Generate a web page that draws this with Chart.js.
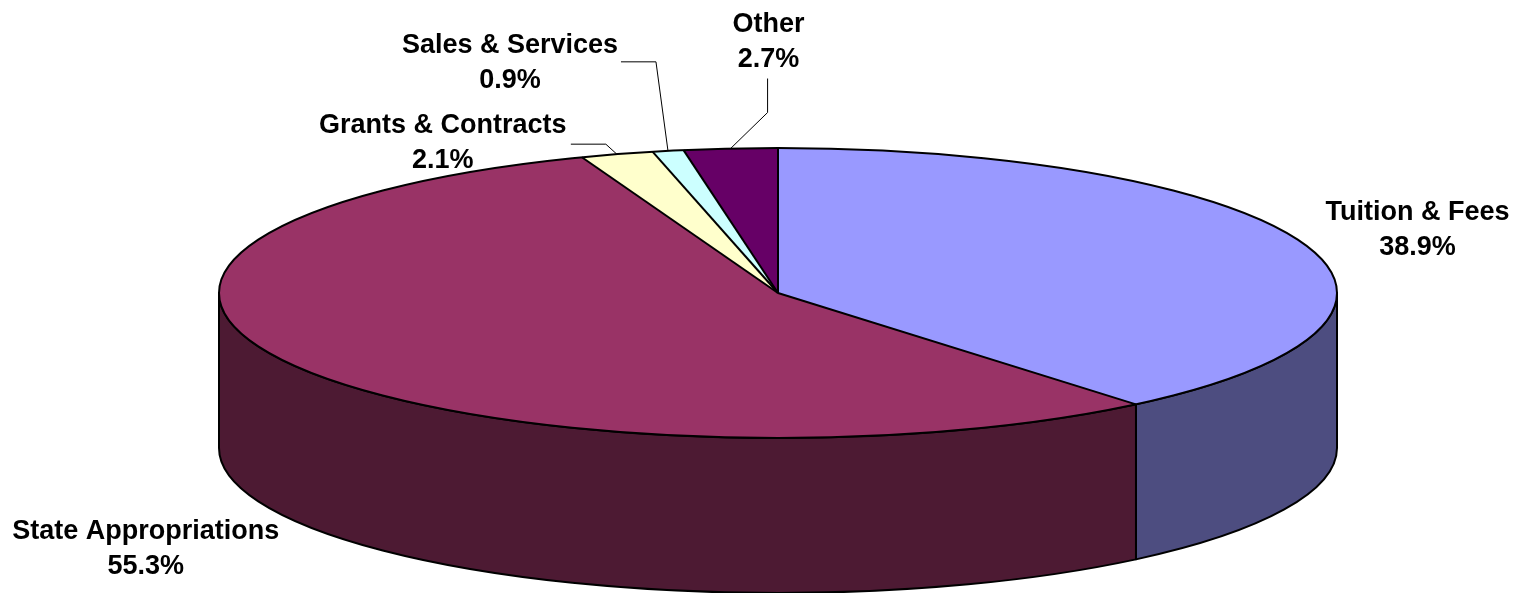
<!DOCTYPE html>
<html>
<head>
<meta charset="utf-8">
<script src="https://cdn.jsdelivr.net/npm/chart.js@4.4.1/dist/chart.umd.min.js"></script>
<style>
  html, body { margin: 0; padding: 0; background: #fff; }
  #wrap { position: relative; width: 1522px; height: 593px; }
</style>
</head>
<body>
<div id="wrap"><canvas id="myChart"></canvas></div>
<script>
// Datos
const categorias = ['Tuition & Fees', 'State Appropriations', 'Grants & Contracts', 'Sales & Services', 'Other'];
const porcentajes = [38.9, 55.3, 2.1, 0.9, 2.7];
const colores = ['#9999FF', '#993366', '#FFFFCC', '#CCFFFF', '#660066'];

// Vista 3D (radios de la elipse y grosor del pastel)
const RX = 559, RY = 145, PROF = 155;

// Posicion de cada etiqueta respecto al borde del sector, y lineas guia
const etiquetas = [
    { dx: 114, dy: -24 },
    { dx: -149, dy: 173 },
    { dx: -174, dy: -21, guia: [[-11, -10], [-46, -10]] },
    { dx: -158, dy: -98, guia: [[-12, -89], [-47, -89]] },
    { dx: 38, dy: -117, guia: [[37, -36], [37, -70]] }
];

function oscurecer(hex, f) {
    const n = parseInt(hex.slice(1), 16);
    const r = Math.round(((n >> 16) & 255) * f);
    const g = Math.round(((n >> 8) & 255) * f);
    const b = Math.round((n & 255) * f);
    return 'rgb(' + r + ',' + g + ',' + b + ')';
}

const pastel3D = {
    id: 'pastel3D',
    beforeDatasetsDraw(chart) {
        const ctx = chart.ctx;
        const arcs = chart.getDatasetMeta(0).data;
        const cx = arcs[0].x, cy = arcs[0].y;
        // pared lateral (solo la mitad delantera)
        ctx.save();
        ctx.lineWidth = 2;
        ctx.strokeStyle = '#000';
        ctx.lineJoin = 'round';
        arcs.forEach((arc, i) => {
            const s = Math.max(arc.startAngle, 0);
            const e = Math.min(arc.endAngle, Math.PI);
            if (s >= e) return;
            ctx.beginPath();
            ctx.ellipse(cx, cy, RX, RY, 0, s, e);
            ctx.lineTo(cx + RX * Math.cos(e), cy + PROF + RY * Math.sin(e));
            ctx.ellipse(cx, cy + PROF, RX, RY, 0, e, s, true);
            ctx.closePath();
            ctx.fillStyle = oscurecer(colores[i], 0.5);
            ctx.fill();
            ctx.stroke();
        });
        ctx.restore();
        // cara superior: aplastar el pastel de Chart.js
        const R = arcs[0].outerRadius;
        ctx.save();
        ctx.translate(cx, cy);
        ctx.scale(RX / R, RY / R);
        ctx.translate(-cx, -cy);
    },
    afterDatasetsDraw(chart) {
        const ctx = chart.ctx;
        ctx.restore();
        const arcs = chart.getDatasetMeta(0).data;
        const cx = arcs[0].x, cy = arcs[0].y;
        ctx.save();
        ctx.lineWidth = 2;
        ctx.strokeStyle = '#000';
        ctx.lineJoin = 'round';
        ctx.beginPath();
        ctx.ellipse(cx, cy, RX, RY, 0, 0, Math.PI * 2);
        ctx.stroke();
        arcs.forEach(arc => {
            const a = arc.startAngle;
            ctx.beginPath();
            ctx.moveTo(cx, cy);
            ctx.lineTo(cx + RX * Math.cos(a), cy + RY * Math.sin(a));
            ctx.stroke();
        });
        ctx.restore();
    },
    afterDraw(chart) {
        const ctx = chart.ctx;
        const arcs = chart.getDatasetMeta(0).data;
        const cx = arcs[0].x, cy = arcs[0].y;
        ctx.save();
        ctx.font = 'bold 27px "Liberation Sans", Arial, sans-serif';
        ctx.fillStyle = '#000';
        ctx.textAlign = 'center';
        ctx.textBaseline = 'alphabetic';
        arcs.forEach((arc, i) => {
            const m = (arc.startAngle + arc.endAngle) / 2;
            const px = cx + RX * Math.cos(m);
            const py = cy + RY * Math.sin(m);
            const et = etiquetas[i];
            if (et.guia) {
                ctx.beginPath();
                ctx.lineWidth = 1;
                ctx.strokeStyle = '#000';
                ctx.moveTo(px, py);
                et.guia.forEach(p => ctx.lineTo(px + p[0], py + p[1]));
                ctx.stroke();
            }
            const x = px + et.dx, y = py + et.dy;
            ctx.fillText(categorias[i], x, y);
            ctx.fillText(porcentajes[i].toFixed(1) + '%', x, y + 35);
        });
        ctx.restore();
    }
};

function crearPastel() {
    const ctx = document.getElementById('myChart').getContext('2d');
    new Chart(ctx, {
        type: 'pie',
        data: {
            labels: categorias,
            datasets: [{
                data: porcentajes,
                backgroundColor: colores,
                borderWidth: 0,
                clip: false
            }]
        },
        options: {
            responsive: true,
            maintainAspectRatio: false,
            animation: false,
            events: [],
            layout: { padding: { left: 34, right: 0, top: 0, bottom: 7 } },
            plugins: {
                legend: { display: false },
                tooltip: { enabled: false }
            }
        },
        plugins: [pastel3D]
    });
}

crearPastel();
</script>
</body>
</html>
